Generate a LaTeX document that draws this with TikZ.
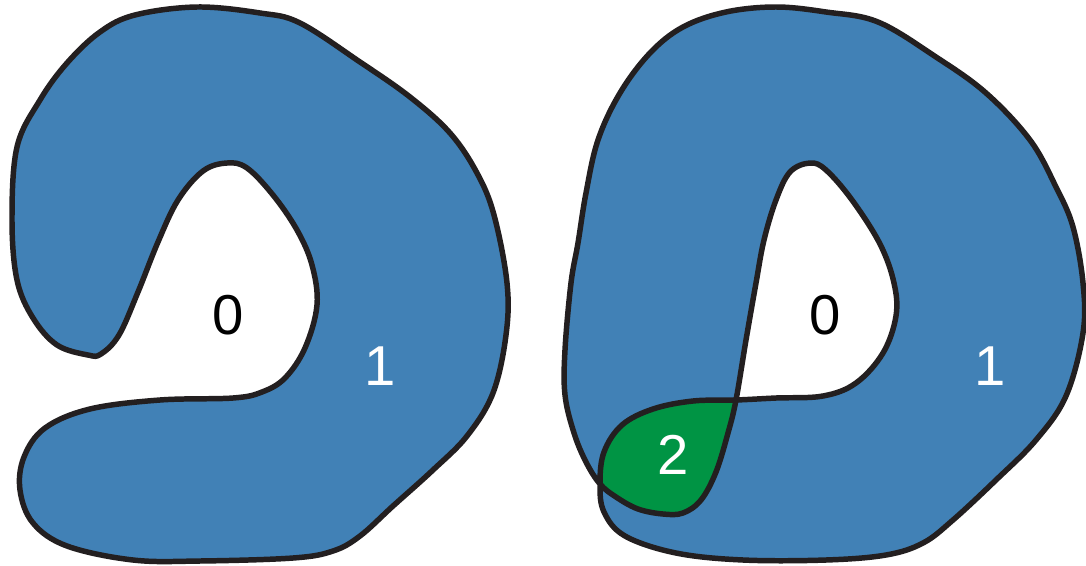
\documentclass[tikz,border=0pt]{standalone}
\usepackage{fontspec}
\setmainfont{Liberation Sans}
\usepackage{xcolor}
\usepackage{tikz}
\definecolor{RegBlue}{HTML}{4181B6}
\definecolor{RegGreen}{HTML}{009444}
\definecolor{RegLine}{HTML}{231F20}

\begin{document}
\begin{tikzpicture}[x=0.025cm,y=-0.025cm,
  rim/.style={draw=RegLine,line width=3.9pt,line join=round},
  digit/.style={font=\fontsize{40}{48}\selectfont,inner sep=0pt}]
\path[use as bounding box] (0,0) rectangle (1086,566);
% left curve, one loop
\def\leftcurve{plot[smooth cycle,tension=0.6] coordinates {
  (197,7) (260,13) (300,23) (360,62) (410,97) (450,133) (477,173) (494,215)
  (507,283) (506,335) (493,393) (467,436) (433,470) (393,506) (360,536)
  (333,551) (293,558) (200,561) (133,560) (67,546) (33,523) (20,490)
  (24,457) (45,428) (90,409) (160,400) (233,398) (262,392) (285,378)
  (305,348) (317,305) (312,265) (297,230) (273,195) (247,168) (227,163)
  (203,171) (178,200) (158,242) (138,292) (119,335) (101,354)
  (88,355) (57,345) (33,318) (17,280) (12,220) (17,147) (40,100)
  (67,63) (100,32) (135,15)}}
% right curve, crosses itself twice
\def\rightcurve{plot[smooth cycle,tension=0.6] coordinates {
  (776,7) (726,12) (683,27) (650,53) (620,93) (598,140) (586,193) (578,243)
  (571,283) (565,350) (565,395) (574,433) (586,462) (600,484) (616,497)
  (638,509) (663,514) (683,513) (701,500) (716,472) (728,433) (736,400)
  (746,340) (756,283) (764,240) (776,200) (790,172) (810,163)
  (826,170) (852,200) (880,244) (894,283) (896,316) (883,353)
  (856,383) (823,396) (776,398) (736,400) (693,401) (653,409) (622,425)
  (604,452) (600,484) (604,512) (625,536) (676,553) (743,560) (826,560)
  (886,555) (923,543) (953,520) (996,480) (1036,440) (1066,396) (1083,333)
  (1083,283) (1073,227) (1056,187) (1030,140) (986,93) (936,57) (878,22)
  (826,12)}}
\fill[RegBlue] \leftcurve;
\draw[rim] \leftcurve;
\fill[RegGreen,nonzero rule] \rightcurve;
\fill[RegBlue,even odd rule] \rightcurve;
\draw[rim] \rightcurve;
\node[digit] (zeroL) at (228,315) {0};
\node[digit,text=white] (oneL) at (380,366) {1};
\node[digit] (zeroR) at (825,315) {0};
\node[digit,text=white] (oneR) at (990,366) {1};
\node[digit,text=white] (twoR) at (673,455) {2};
\end{tikzpicture}
\end{document}
